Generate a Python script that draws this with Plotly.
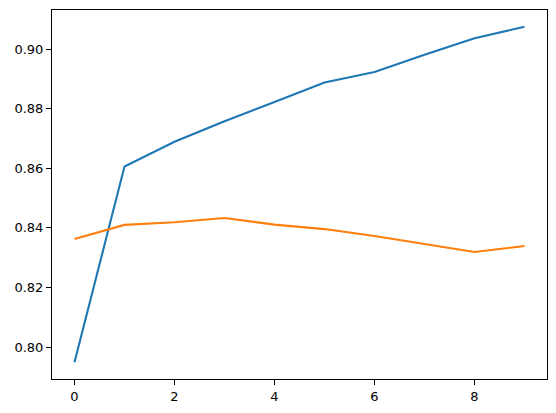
import plotly.graph_objects as go

epochs = list(range(10))
train_acc = [0.7949, 0.8606, 0.8689, 0.8758, 0.8822, 0.8888, 0.8923, 0.8981, 0.9036, 0.9075]
val_acc = [0.8363, 0.8410, 0.8419, 0.8433, 0.8411, 0.8396, 0.8373, 0.8345, 0.8319, 0.8339]
y_ticks = [0.80, 0.82, 0.84, 0.86, 0.88, 0.90]
x_ticks = [0, 2, 4, 6, 8]

fig = go.Figure(data=[
    go.Scatter(x=epochs, y=train_acc, mode='lines', line=dict(color='#1f77b4', width=2.1)),
    go.Scatter(x=epochs, y=val_acc, mode='lines', line=dict(color='#ff7f0e', width=2.1)),
])

axis_style = dict(showline=True, linecolor='black', linewidth=1.1, mirror=True,
                  showgrid=False, zeroline=False, ticks='outside', ticklen=5,
                  tickwidth=1.1, tickcolor='black', automargin=False,
                  tickfont=dict(family='DejaVu Sans', size=13, color='black'))

fig.update_layout(
    width=556, height=413, showlegend=False,
    plot_bgcolor='white', paper_bgcolor='white',
    margin=dict(l=52, r=9, t=10, b=34),
    xaxis=dict(range=[-0.45, 9.45], tickvals=x_ticks, **axis_style),
    yaxis=dict(range=[0.7893, 0.9131], tickvals=y_ticks, tickformat='.2f', **axis_style),
)

# page body has a default margin; drop it so the figure sits at the corner
fig.write_html("out.html", config={'displayModeBar': False},
               post_script="document.body.style.margin='0';")
